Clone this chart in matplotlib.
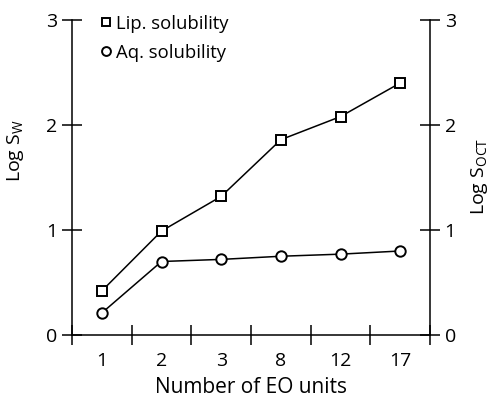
import matplotlib.pyplot as plt
import numpy as np

plt.rcParams['font.family'] = ['Open Sans', 'DejaVu Sans']

categories = ['1', '2', '3', '8', '12', '17']
lip_solubility = [0.42, 0.99, 1.32, 1.86, 2.08, 2.40]
aq_solubility = [0.21, 0.70, 0.72, 0.75, 0.77, 0.80]

x = np.arange(1, len(categories) + 1)

fig = plt.figure(figsize=(4.9, 3.98), dpi=100)
ax = fig.add_axes([72 / 490, 1 - 335 / 398, (430 - 72) / 490, 315 / 398])

ax.plot(x, lip_solubility, color='black', lw=1.1, marker='s', ms=6.5,
        mfc='white', mec='black', mew=1.4, label='Lip. solubility')
ax.plot(x, aq_solubility, color='black', lw=1.1, marker='o', ms=7.5,
        mfc='white', mec='black', mew=1.4, label='Aq. solubility')

ax.set_xlim(0.5, 6.5)
ax.set_ylim(0, 3)

ax.spines['top'].set_visible(False)
for s in ['left', 'right', 'bottom']:
    ax.spines[s].set_linewidth(1.1)

ax.set_xticks(x)
ax.set_xticklabels(categories)
ax.set_xticks(np.arange(0.5, 6.6, 1), minor=True)
ax.tick_params(axis='x', which='major', length=0, pad=12, labelsize=14)
ax.tick_params(axis='x', which='minor', direction='inout', length=15, width=1.1)

ax.set_yticks([0, 1, 2, 3])
ax.tick_params(axis='y', direction='inout', length=15, width=1.1, labelsize=14,
               left=True, right=True, labelleft=True, labelright=True, pad=3)

ax.set_xlabel('Number of EO units', fontsize=15, labelpad=5)
ax.set_ylabel('Log S$_\\mathregular{W}$', fontsize=14)
ax.yaxis.set_label_coords(-0.128, 0.585)

# right-hand axis title
fig.text(479 / 490, 1 - 176 / 398, 'Log S$_\\mathregular{OCT}$', fontsize=14,
         rotation=90, ha='center', va='center')

leg = ax.legend(loc='upper left', bbox_to_anchor=(0.035, 1.07), frameon=False,
                fontsize=13.3, handlelength=0.5, handletextpad=0.3,
                labelspacing=0.6, markerscale=0.85)
for h in leg.legend_handles:
    h.set_linestyle('none')

fig.savefig('out.png', dpi=100)
